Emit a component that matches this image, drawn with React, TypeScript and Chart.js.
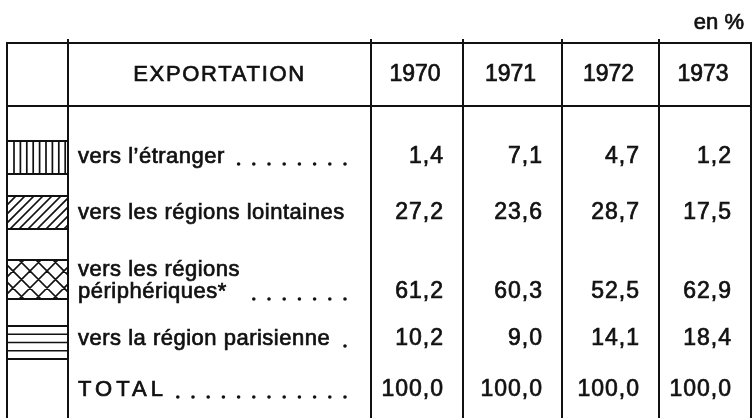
import React, { useEffect, useRef } from "react";
import { Chart, registerables } from "chart.js";

Chart.register(...registerables);

// ---------- data ----------
const unitLabel = "en %";
const headerTitle = "EXPORTATION";
const years = ["1970", "1971", "1972", "1973"];
const rowLabelLines = [
  ["vers l’étranger"],
  ["vers les régions lointaines"],
  ["vers les régions", "périphériques*"],
  ["vers la région parisienne"],
  ["TOTAL"],
];
const leaderDots = [8, 0, 7, 1, 12];
const rowPatterns = ["vertical", "diagonal", "cross", "horizontal", "none"];
const values1970 = [1.4, 27.2, 61.2, 10.2, 100.0];
const values1971 = [7.1, 23.6, 60.3, 9.0, 100.0];
const values1972 = [4.7, 28.7, 52.5, 14.1, 100.0];
const values1973 = [1.2, 17.5, 62.9, 18.4, 100.0];
const yearValues = [values1970, values1971, values1972, values1973];

// ---------- layout (drawing units = canvas pixels) ----------
const W = 756;
const H = 418;
const colEdges = [7, 68, 371, 463, 562, 659, 751];
const tableTop = 43;
const headerBottom = 106;
const tickTop = 39;
const headerY = 75;
const unitY = 23;
const unitRight = 744;
const rowY = [157, 213, 292, 339, 390];
const lineStep = 22;
const labelX = 78;
const dotEnd = 345;
const dotGap = 15.2;
const boxes = [
  [141, 174],
  [196, 229],
  [260, 299],
  [326, 359],
];
const INK = "#111111";
const FONT = "'Liberation Sans', Arial, sans-serif";
const HEAVY = 0.7;

const fmt = (v: number) => v.toFixed(1).replace(".", ",");

function heavyText(ctx: CanvasRenderingContext2D, s: string, x: number, y: number) {
  ctx.fillText(s, x, y);
  ctx.lineWidth = HEAVY;
  ctx.strokeText(s, x, y);
}

const tablePlugin = {
  id: "tablePlugin",
  beforeDraw(chart: any) {
    const { ctx } = chart;
    ctx.save();
    ctx.fillStyle = "#ffffff";
    ctx.fillRect(0, 0, chart.width, chart.height);
    ctx.restore();
  },
  afterDatasetsDraw(chart: any) {
    const { ctx } = chart;
    const xs = chart.scales.x;
    const ys = chart.scales.y;
    const px = (v: number) => xs.getPixelForValue(v);
    const py = (v: number) => ys.getPixelForValue(v);
    ctx.save();
    ctx.strokeStyle = INK;
    ctx.fillStyle = INK;
    ctx.lineWidth = 2;

    // horizontal borders
    ctx.beginPath();
    ctx.moveTo(px(colEdges[0]) - 1, py(tableTop));
    ctx.lineTo(px(colEdges[colEdges.length - 1]) + 1, py(tableTop));
    ctx.moveTo(px(colEdges[0]) - 1, py(headerBottom));
    ctx.lineTo(px(colEdges[colEdges.length - 1]) + 1, py(headerBottom));
    ctx.stroke();

    // vertical lines
    ctx.beginPath();
    colEdges.forEach((e, i) => {
      const outer = i === 0 || i === colEdges.length - 1;
      ctx.moveTo(px(e), py(outer ? tableTop : tickTop));
      ctx.lineTo(px(e), py(H));
    });
    ctx.stroke();

    // pattern boxes
    const bx0 = px(colEdges[0]);
    const bx1 = px(colEdges[1]);
    rowPatterns.forEach((p, i) => {
      if (p === "none") return;
      const [t, b] = boxes[i];
      const y0 = py(t);
      const y1 = py(b);
      ctx.save();
      ctx.lineWidth = 2;
      ctx.beginPath();
      ctx.moveTo(bx0, y0);
      ctx.lineTo(bx1, y0);
      ctx.moveTo(bx0, y1);
      ctx.lineTo(bx1, y1);
      ctx.stroke();
      ctx.beginPath();
      ctx.rect(bx0, y0, bx1 - bx0, y1 - y0);
      ctx.clip();
      ctx.lineWidth = 1.7;
      ctx.beginPath();
      if (p === "vertical") {
        for (let x = bx0 + 7; x < bx1 - 2; x += 6.4) {
          ctx.moveTo(x, y0);
          ctx.lineTo(x, y1);
        }
      } else if (p === "diagonal") {
        const h = y1 - y0;
        for (let x = bx0 - h; x < bx1 + h; x += 9) {
          ctx.moveTo(x, y1);
          ctx.lineTo(x + h, y0);
        }
      } else if (p === "cross") {
        const h = y1 - y0;
        for (let x = bx0 - h; x < bx1 + h; x += 17) {
          ctx.moveTo(x, y1);
          ctx.lineTo(x + h, y0);
          ctx.moveTo(x, y0);
          ctx.lineTo(x + h, y1);
        }
      } else if (p === "horizontal") {
        const n = 4;
        for (let k = 1; k < n; k++) {
          const yy = y0 + ((y1 - y0) * k) / n;
          ctx.moveTo(bx0, yy);
          ctx.lineTo(bx1, yy);
        }
      }
      ctx.stroke();
      ctx.restore();
    });

    // unit label
    ctx.textBaseline = "middle";
    ctx.font = `22px ${FONT}`;
    ctx.textAlign = "right";
    heavyText(ctx, unitLabel, px(unitRight), py(unitY));

    // header
    ctx.font = `22px ${FONT}`;
    ctx.textAlign = "center";
    (ctx as any).letterSpacing = "1.7px";
    heavyText(ctx, headerTitle, (px(colEdges[1]) + px(colEdges[2])) / 2, py(headerY));
    (ctx as any).letterSpacing = "0px";
    ctx.font = `23px ${FONT}`;
    years.forEach((yr, j) => {
      const cx = (px(colEdges[j + 2]) + px(colEdges[j + 3])) / 2 - 2;
      heavyText(ctx, yr, cx, py(headerY));
    });

    // row labels
    ctx.textAlign = "left";
    rowLabelLines.forEach((lines, i) => {
      const isTotal = i === rowLabelLines.length - 1;
      ctx.font = `22px ${FONT}`;
      (ctx as any).letterSpacing = isTotal ? "4px" : "0.5px";
      lines.forEach((line, k) => {
        const yy = py(rowY[i]) - (lines.length - 1 - k) * lineStep;
        heavyText(ctx, line, px(labelX), yy);
      });
      (ctx as any).letterSpacing = "0px";
      // dot leaders
      const baseY = py(rowY[i]) + 7;
      for (let d = 0; d < leaderDots[i]; d++) {
        const cx = px(dotEnd) - (leaderDots[i] - 1 - d) * dotGap;
        ctx.beginPath();
        ctx.arc(cx, baseY, 1.8, 0, Math.PI * 2);
        ctx.fill();
      }
    });

    // values from dataset elements
    ctx.font = `23px ${FONT}`;
    ctx.textAlign = "right";
    (ctx as any).letterSpacing = "1px";
    chart.data.datasets.forEach((ds: any, j: number) => {
      const meta = chart.getDatasetMeta(j);
      meta.data.forEach((el: any, i: number) => {
        heavyText(ctx, fmt(ds.data[i].v), el.x + 1, el.y);
      });
    });
    (ctx as any).letterSpacing = "0px";
    ctx.restore();
  },
};

export default function App() {
  const ref = useRef<HTMLCanvasElement>(null);
  useEffect(() => {
    if (!ref.current) return;
    const datasets = yearValues.map((vals, j) => ({
      label: years[j],
      data: vals.map((v, i) => ({ x: colEdges[j + 3] - 20, y: rowY[i], v })),
      pointRadius: 0,
      showLine: false,
    }));
    const chart = new Chart(ref.current, {
      type: "scatter",
      data: { datasets },
      options: {
        animation: false,
        responsive: false,
        devicePixelRatio: 1,
        layout: { padding: 0 },
        plugins: { legend: { display: false }, tooltip: { enabled: false } },
        events: [],
        scales: {
          x: { type: "linear", min: 0, max: W, display: false },
          y: { type: "linear", min: 0, max: H, reverse: true, display: false },
        },
      },
      plugins: [tablePlugin],
    });
    return () => chart.destroy();
  }, []);
  return (
    <div style={{ position: "fixed", left: 0, top: 0, width: W, height: H, background: "#fff" }}>
      <canvas ref={ref} width={W} height={H} style={{ width: W, height: H }} />
    </div>
  );
}
